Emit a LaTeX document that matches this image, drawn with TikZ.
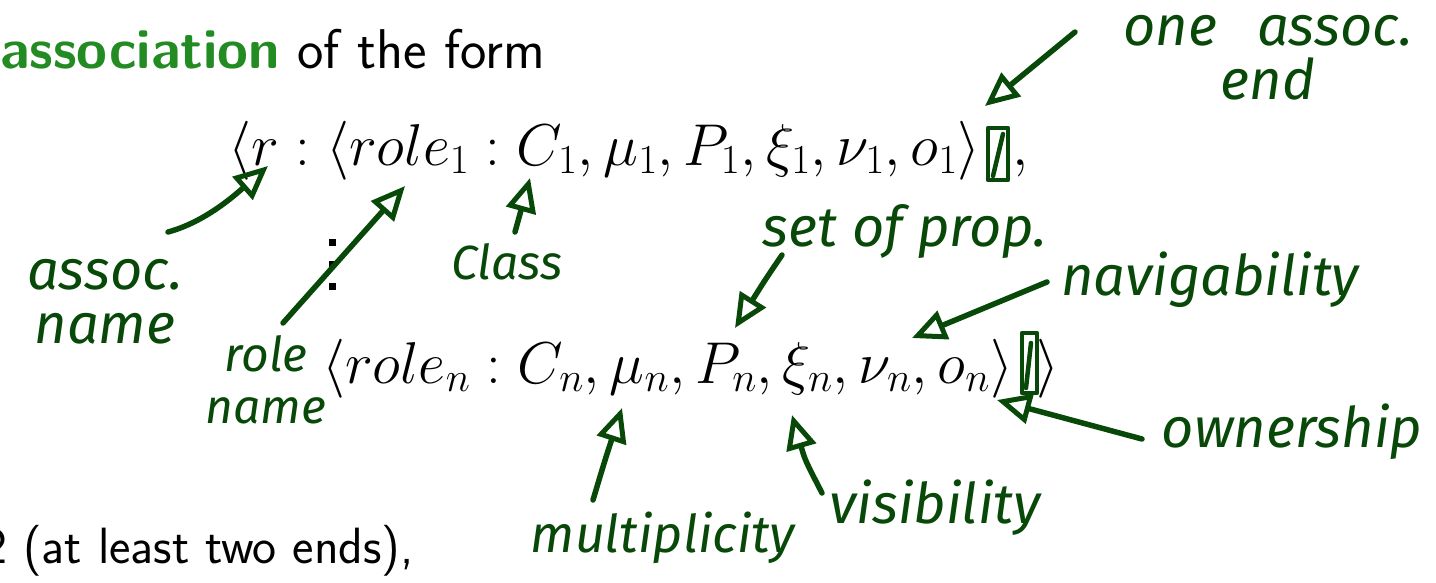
\RequirePackage{fix-cm}
\documentclass[tikz,border=0pt]{standalone}
\usepackage{fontspec}
\newfontfamily\hand{Fira Sans}
\usetikzlibrary{arrows.meta}
\definecolor{hgreen}{RGB}{8,72,8}
\definecolor{agreen}{RGB}{34,139,34}
\tikzset{
  hw/.style={text=hgreen, font=\hand\itshape\fontsize{56}{54}\selectfont, inner sep=0pt, align=center},
  hws/.style={hw, font=\hand\itshape\fontsize{48}{52}\selectfont},
  harrow/.style={draw=hgreen, line width=5.5pt, line cap=round, line join=round,
    -{Triangle[open,length=34pt,width=30pt,line width=5pt]}},
  hbox/.style={draw=hgreen, line width=4.5pt, line join=round, line cap=round},
  mathline/.style={font=\fontsize{59}{70}\selectfont, inner sep=0pt, anchor=base west},
  slidetext/.style={font=\sffamily\fontsize{56}{60}\selectfont, inner sep=0pt},
  dotmark/.style={fill=black},
}
\begin{document}
\begin{tikzpicture}[x=1pt,y=-1pt]
\useasboundingbox (0,0) rectangle (1436,582);
% slide text
\node[slidetext, anchor=base west] (title) at (0,68) {\textcolor{agreen}{\bfseries association} of the form};
\node[mathline] (l1) at (228,165) {$\langle r : \langle role_1 : C_1, \mu_1, P_1, \xi_1, \nu_1, o_1\rangle$};
\node[mathline] (comma1) at (1012,165) {$,$};
\fill[dotmark] (329,239) rectangle +(7,7);
\fill[dotmark] (329,261) rectangle +(7,7);
\fill[dotmark] (329,283) rectangle +(7,7);
\node[mathline] (ln) at (322,383) {$\langle role_n : C_n, \mu_n, P_n, \xi_n, \nu_n, o_n\rangle\hspace{24pt}\rangle$};
\node[slidetext, anchor=base east, font=\sffamily\fontsize{51}{60}\selectfont] (ends) at (414,563) {2 (at least two ends),};
% hand-drawn boxes
\draw[hbox] (988,128) rectangle (1008,180);
\draw[hbox] (993,176) -- (1003,134);
\draw[hbox] (1022,333) rectangle (1037,393);
\draw[hbox] (1026,388) -- (1031,343);
% handwritten labels
\node[hw] (oneend) at (1268,58) {one\hspace{40pt}assoc.\\end};
\node[hw] (aname) at (105,302) {assoc.\\name};
\node[hws] (rname) at (266,380) {role\\name};
\node[hws] (cls) at (507,262) {Class};
\node[hw] (setp) at (905,232) {set of prop.};
\node[hw] (navi) at (1210,280) {navigability};
\node[hw] (own) at (1292,432) {ownership};
\node[hw, font=\hand\itshape\fontsize{52}{54}\selectfont] (mult) at (663,538) {multiplicity};
\node[hw] (visi) at (935,508) {visibility};
% arrow end points
\coordinate (a1s) at (1075,32);  \coordinate (a1e) at (985,106);
\coordinate (a2s) at (168,232);  \coordinate (a2e) at (268,166);
\coordinate (a3s) at (283,323);  \coordinate (a3e) at (405,186);
\coordinate (a4s) at (515,232);  \coordinate (a4e) at (530,178);
\coordinate (a5s) at (782,255);  \coordinate (a5e) at (735,328);
\coordinate (a6s) at (1047,282); \coordinate (a6e) at (912,338);
\coordinate (a7s) at (1142,439); \coordinate (a7e) at (997,400);
\coordinate (a8s) at (593,500);  \coordinate (a8e) at (622,408);
\coordinate (a9s) at (822,493);  \coordinate (a9e) at (792,415);
\draw[harrow] (a1s) -- (a1e);
\draw[harrow] (a2s) .. controls (205,222) and (235,195) .. (a2e);
\draw[harrow] (a3s) -- (a3e);
\draw[harrow] (a4s) -- (a4e);
\draw[harrow] (a5s) .. controls (765,280) .. (a5e);
\draw[harrow] (a6s) -- (a6e);
\draw[harrow] (a7s) -- (a7e);
\draw[harrow] (a8s) .. controls (605,460) .. (a8e);
\draw[harrow] (a9s) .. controls (805,460) .. (a9e);
\end{tikzpicture}
\end{document}
